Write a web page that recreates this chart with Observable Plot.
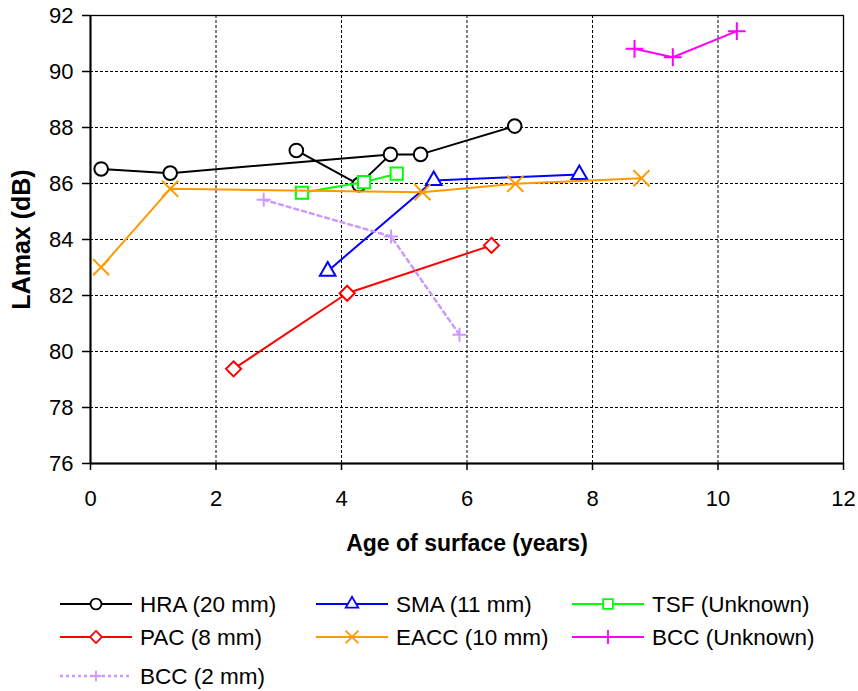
<!DOCTYPE html>
<html><head><meta charset="utf-8">
<script src="https://cdn.jsdelivr.net/npm/d3@7"></script>
<script src="https://cdn.jsdelivr.net/npm/@observablehq/plot@0.6"></script>
<style>
body{margin:0;background:#fff;font-family:"Liberation Sans",Arial,sans-serif;}
#chart svg{display:block;background:#fff}
g[aria-label="x-axis label"] text{font-weight:bold;font-size:23px}
g[aria-label="y-axis label"] text{font-weight:bold;font-size:25px}
</style></head><body><div id="chart"></div><script>
// ---- data ----
const seriesNames = ["HRA (20 mm)", "SMA (11 mm)", "TSF (Unknown)", "PAC (8 mm)", "EACC (10 mm)", "BCC (Unknown)", "BCC (2 mm)"];
const hraX = [0.17, 1.27, 3.28, 4.28, 4.78, 5.26, 6.76];
const hraY = [86.52, 86.37, 87.18, 85.96, 87.04, 87.04, 88.05];
const hraPaths = [[0, 1, 4, 5, 6], [2, 3, 4]];
const smaX = [3.78, 5.47, 7.79];
const smaY = [82.87, 86.11, 86.32];
const tsfX = [3.37, 4.36, 4.88];
const tsfY = [85.67, 86.05, 86.35];
const pacX = [2.28, 4.09, 6.39];
const pacY = [79.38, 82.08, 83.79];
const eaccX = [0.17, 1.27, 5.29, 6.77, 8.78];
const eaccY = [83.01, 85.81, 85.69, 85.99, 86.19];
const bccUX = [8.67, 9.28, 10.3];
const bccUY = [90.81, 90.51, 91.44];
const bcc2X = [2.76, 4.79, 5.88];
const bcc2Y = [85.42, 84.11, 80.6];
const xTicks = [0, 2, 4, 6, 8, 10, 12];
const yTicks = [76, 78, 80, 82, 84, 86, 88, 90, 92];
const xLabel = "Age of surface (years)";
const yLabel = "LAmax (dB)";

// ---- styles ----
const seriesColors = ["#000000", "#0000FF", "#00FF00", "#FF0000", "#FF9900", "#FF00FF", "#CC99FF"];
const seriesSymbols = ["circle", "triangle", "square", "diamond2", "times", "plus", "plus"];
const seriesR = [6.8, 5.8, 6.9, 6.8, 7.4, 5.8, 4.6];
const seriesDash = [null, null, null, null, null, null, "4,4"];
const seriesWidth = [2, 2, 2, 2, 2, 2, 2.5];
const seriesXs = [hraX, smaX, tsfX, pacX, eaccX, bccUX, bcc2X];
const seriesYs = [hraY, smaY, tsfY, pacY, eaccY, bccUY, bcc2Y];
const seriesPaths = [hraPaths, null, null, null, null, null, null];

const marks = [
  Plot.gridX(xTicks, {stroke: "#000", strokeOpacity: 1, strokeDasharray: "3,2"}),
  Plot.gridY(yTicks, {stroke: "#000", strokeOpacity: 1, strokeDasharray: "3,2"}),
  Plot.frame({stroke: "#000", strokeWidth: 1.3}),
  Plot.ruleX([0], {stroke: "#000", strokeWidth: 2}),
  Plot.ruleY([76], {stroke: "#000", strokeWidth: 2}),
  Plot.axisX(xTicks, {tickSize: 7, tickPadding: 20, fontSize: 22, label: xLabel, labelAnchor: "center", labelOffset: 87, labelArrow: "none", strokeWidth: 1.5}),
  Plot.axisY(yTicks, {tickSize: 8, tickPadding: 9, fontSize: 22, label: yLabel, labelAnchor: "center", labelOffset: 78, labelArrow: "none", strokeWidth: 1.5})
];

seriesNames.forEach((name, i) => {
  const xs = seriesXs[i], ys = seriesYs[i];
  const pts = xs.map((x, j) => ({x, y: ys[j]}));
  const paths = seriesPaths[i] || [xs.map((_, j) => j)];
  const lineData = paths.flatMap((p, k) => p.map(j => ({x: xs[j], y: ys[j], g: k})));
  const sym = seriesSymbols[i];
  const hollow = sym !== "times" && sym !== "plus";
  marks.push(Plot.line(lineData, {x: "x", y: "y", z: "g", stroke: seriesColors[i], strokeWidth: seriesWidth[i], strokeDasharray: seriesDash[i] || undefined}));
  marks.push(Plot.dot(pts, {x: "x", y: "y", symbol: sym, r: seriesR[i], stroke: seriesColors[i], strokeWidth: 2, fill: hollow ? "white" : "none"}));
});

const chart = Plot.plot({
  width: 858, height: 565,
  marginLeft: 90, marginRight: 15, marginTop: 15, marginBottom: 102,
  style: {fontFamily: "'Liberation Sans', Arial, sans-serif", color: "#000", background: "#fff"},
  x: {domain: [0, 12]},
  y: {domain: [76, 92]},
  marks
});
document.getElementById("chart").appendChild(chart);

// ---- legend (below the plot) ----
const symMap = {circle: d3.symbolCircle, triangle: d3.symbolTriangle, square: d3.symbolSquare, diamond2: d3.symbolDiamond2, times: d3.symbolTimes, plus: d3.symbolPlus};
const legend = d3.select("#chart").append("svg").attr("width", 858).attr("height", 126)
  .style("font-family", "'Liberation Sans', Arial, sans-serif").style("display", "block");
const colX = [60, 316, 572], rowY = [39, 72, 111];
seriesNames.forEach((name, i) => {
  const x0 = colX[i % 3], y0 = rowY[Math.floor(i / 3)];
  const g = legend.append("g").attr("transform", `translate(${x0},${y0})`);
  g.append("line").attr("x1", 0).attr("x2", 72).attr("y1", 0).attr("y2", 0)
    .attr("stroke", seriesColors[i]).attr("stroke-width", seriesWidth[i])
    .attr("stroke-dasharray", seriesDash[i] ? "3,3" : null);
  const sym = seriesSymbols[i];
  const hollow = sym !== "times" && sym !== "plus";
  const rr = seriesR[i] * 0.8;
  g.append("path").attr("transform", "translate(36,0)")
    .attr("d", d3.symbol(symMap[sym], Math.PI * rr * rr)())
    .attr("fill", hollow ? "white" : "none").attr("stroke", seriesColors[i]).attr("stroke-width", 1.8);
  g.append("text").attr("x", 80).attr("y", 0).attr("dy", "0.35em").attr("font-size", 22.5).attr("fill", "#000").text(name);
});
</script></body></html>
